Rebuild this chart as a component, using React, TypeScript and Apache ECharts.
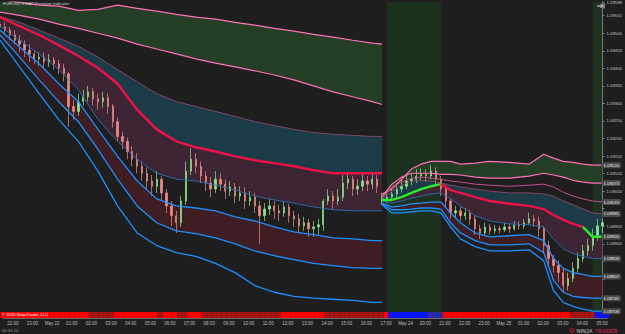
import React, { useEffect, useRef } from "react";
import * as echarts from "echarts";

const hourLabels = ["22:00","23:00","May 22","01:00","02:00","03:00","04:00","05:00","06:00","07:00","08:00","09:00","10:00","11:00","12:00","13:00","14:00","15:00","16:00","17:00","May 24","20:00","21:00","22:00","23:00","May 25","01:00","02:00","03:00","04:00","05:00"];

// [open, close, low, high] per 15-minute bar
const candles = [
[1.09526,1.09517,1.09503,1.09546],[1.09517,1.09509,1.09495,1.09531],[1.09509,1.09495,1.09480,1.09517],[1.09495,1.09480,1.09469,1.09509],
[1.09480,1.09469,1.09446,1.09495],[1.09469,1.09452,1.09432,1.09480],[1.09452,1.09441,1.09418,1.09469],[1.09441,1.09427,1.09413,1.09452],
[1.09427,1.09432,1.09407,1.09446],[1.09432,1.09418,1.09401,1.09446],[1.09418,1.09424,1.09404,1.09441],[1.09424,1.09413,1.09396,1.09432],
[1.09413,1.09401,1.09384,1.09424],[1.09401,1.09384,1.09362,1.09413],[1.09384,1.09291,1.09234,1.09390],[1.09291,1.09277,1.09254,1.09311],
[1.09277,1.09305,1.09265,1.09328],[1.09305,1.09319,1.09294,1.09339],[1.09319,1.09333,1.09305,1.09350],[1.09333,1.09313,1.09294,1.09345],
[1.09313,1.09305,1.09282,1.09328],[1.09305,1.09316,1.09288,1.09333],[1.09316,1.09291,1.09271,1.09328],[1.09291,1.09248,1.09231,1.09299],
[1.09248,1.09206,1.09192,1.09260],[1.09206,1.09192,1.09169,1.09220],[1.09192,1.09163,1.09141,1.09203],[1.09163,1.09141,1.09121,1.09178],
[1.09141,1.09121,1.09101,1.09158],[1.09121,1.09101,1.09079,1.09135],[1.09101,1.09079,1.09056,1.09118],[1.09079,1.09064,1.09036,1.09096],
[1.09064,1.09084,1.09045,1.09107],[1.09084,1.09045,1.09022,1.09093],[1.09045,1.09008,1.08988,1.09056],[1.09008,1.08980,1.08951,1.09022],
[1.08980,1.08960,1.08931,1.08994],[1.08960,1.09022,1.08948,1.09036],[1.09022,1.09107,1.09011,1.09135],[1.09107,1.09141,1.09096,1.09172],
[1.09141,1.09121,1.09101,1.09158],[1.09121,1.09093,1.09073,1.09135],[1.09093,1.09073,1.09050,1.09107],[1.09073,1.09056,1.09033,1.09090],
[1.09056,1.09084,1.09045,1.09107],[1.09084,1.09070,1.09050,1.09101],[1.09070,1.09050,1.09028,1.09084],[1.09050,1.09062,1.09036,1.09079],
[1.09062,1.09036,1.09016,1.09073],[1.09036,1.09045,1.09022,1.09064],[1.09045,1.09022,1.08999,1.09062],[1.09022,1.09033,1.09008,1.09050],
[1.09033,1.09008,1.08988,1.09045],[1.09008,1.08980,1.08900,1.09022],[1.08980,1.08999,1.08965,1.09016],[1.08999,1.09008,1.08982,1.09028],
[1.09008,1.08994,1.08971,1.09022],[1.08994,1.08988,1.08965,1.09011],[1.08988,1.09005,1.08977,1.09022],[1.09005,1.08980,1.08960,1.09014],
[1.08980,1.08971,1.08948,1.08994],[1.08971,1.08951,1.08931,1.08985],[1.08951,1.08960,1.08937,1.08977],[1.08960,1.08943,1.08920,1.08971],
[1.08943,1.08948,1.08920,1.08965],[1.08948,1.08954,1.08926,1.08971],[1.08954,1.09022,1.08937,1.09028],[1.09022,1.09036,1.09011,1.09056],
[1.09036,1.09022,1.08999,1.09050],[1.09022,1.09033,1.09011,1.09056],[1.09033,1.09073,1.09022,1.09096],[1.09073,1.09084,1.09056,1.09101],
[1.09084,1.09056,1.09036,1.09093],[1.09056,1.09064,1.09039,1.09084],[1.09064,1.09079,1.09050,1.09098],[1.09079,1.09070,1.09050,1.09093],
[1.09070,1.09084,1.09056,1.09101],[1.09084,1.09064,1.09045,1.09096],
[1.09022,1.09028,1.09011,1.09045],[1.09028,1.09033,1.09016,1.09050],[1.09033,1.09042,1.09022,1.09059],[1.09042,1.09056,1.09033,1.09073],
[1.09056,1.09064,1.09045,1.09084],[1.09064,1.09079,1.09056,1.09096],[1.09079,1.09084,1.09067,1.09101],[1.09084,1.09093,1.09073,1.09113],
[1.09093,1.09098,1.09079,1.09115],[1.09098,1.09093,1.09076,1.09113],[1.09093,1.09107,1.09084,1.09124],[1.09107,1.09084,1.09067,1.09118],
[1.09084,1.09056,1.09036,1.09093],[1.09056,1.09022,1.09002,1.09064],[1.09022,1.08988,1.08971,1.09030],[1.08988,1.08994,1.08974,1.09008],
[1.08994,1.08980,1.08965,1.09005],[1.08980,1.08988,1.08968,1.09002],[1.08988,1.08971,1.08954,1.08997],[1.08971,1.08943,1.08926,1.08980],
[1.08943,1.08931,1.08914,1.08954],[1.08931,1.08948,1.08923,1.08960],[1.08948,1.08937,1.08926,1.08957],[1.08937,1.08943,1.08929,1.08954],
[1.08943,1.08940,1.08929,1.08951],[1.08940,1.08948,1.08934,1.08960],[1.08948,1.08943,1.08931,1.08957],[1.08943,1.08954,1.08937,1.08965],
[1.08954,1.08951,1.08940,1.08965],[1.08951,1.08960,1.08943,1.08971],[1.08960,1.08971,1.08954,1.08988],[1.08971,1.08965,1.08948,1.08982],
[1.08965,1.08943,1.08920,1.08977],[1.08943,1.08895,1.08875,1.08951],[1.08895,1.08858,1.08835,1.08909],[1.08858,1.08838,1.08818,1.08869],
[1.08838,1.08818,1.08790,1.08852],[1.08818,1.08781,1.08762,1.08830],[1.08781,1.08801,1.08767,1.08818],[1.08801,1.08830,1.08790,1.08847],
[1.08830,1.08858,1.08818,1.08875],[1.08858,1.08880,1.08847,1.08897],[1.08880,1.08895,1.08866,1.08914],[1.08895,1.08923,1.08880,1.08943],
[1.08923,1.08951,1.08909,1.08971],[1.08951,1.08960,1.08931,1.08971]
];

// bottom state strip: 2 strong down, 1 weak down, -1 weak up, -2 strong up
const barState = [
2,2,2,2,2,2,2,2,2,2,2,2,2,2,2,2,2,2,1,1,1,1,1,2,2,2,2,2,2,2,2,2,1,2,2,2,1,1,2,2,2,
1,1,1,1,1,1,1,1,1,1,1,1,1,1,1,1,2,2,2,2,2,2,2,2,2,1,1,1,1,1,1,1,1,1,1,1,1,2,
-2,-2,-2,-2,-2,-2,-2,-2,-1,-1,-1,
2,2,2,2,2,2,2,2,2,2,2,2,2,2,2,2,2,2,2,2,2,2,2,2,2,2,1,1,1,1,1,-2,-2,-2
];

const shadeRanges = [[79, 90], [120.6, 123]];

// Session 1 band values
const s1Idx = [0,4,8,12,16,20,24,28,32,36,40,44,48,52,56,60,64,68,72,76,78];
const s1U4 = [1.09596,1.09588,1.09580,1.09577,1.09565,1.09568,1.09580,1.09571,1.09563,1.09554,1.09546,1.09540,1.09531,1.09523,1.09514,1.09506,1.09497,1.09489,1.09480,1.09472,1.09469];
const s1U3 = [1.09560,1.09551,1.09540,1.09526,1.09514,1.09500,1.09486,1.09469,1.09455,1.09441,1.09427,1.09415,1.09404,1.09393,1.09381,1.09367,1.09350,1.09333,1.09319,1.09305,1.09297];
const s1U1 = [1.09548,1.09531,1.09509,1.09486,1.09463,1.09432,1.09396,1.09362,1.09328,1.09305,1.09291,1.09277,1.09263,1.09248,1.09237,1.09226,1.09217,1.09212,1.09209,1.09206,1.09206];
const s1Vwap = [1.09546,1.09520,1.09495,1.09466,1.09435,1.09401,1.09356,1.09282,1.09226,1.09192,1.09175,1.09163,1.09149,1.09138,1.09130,1.09121,1.09110,1.09101,1.09101,1.09101,1.09101];
const s1Up = [false,false,false,false,false,false,false,false,false,false,false,false,false,false,false,false,false,false,false,false,false];
const s1L1 = [1.09520,1.09480,1.09441,1.09396,1.09339,1.09254,1.09192,1.09141,1.09101,1.09084,1.09079,1.09067,1.09053,1.09036,1.09025,1.09016,1.09005,1.08997,1.08994,1.08994,1.08994];
const s1L2 = [1.09509,1.09461,1.09413,1.09356,1.09305,1.09226,1.09149,1.09079,1.09028,1.09008,1.09002,1.08994,1.08977,1.08965,1.08948,1.08934,1.08926,1.08917,1.08914,1.08909,1.08909];
const s1L3 = [1.09495,1.09432,1.09367,1.09305,1.09248,1.09169,1.09084,1.09008,1.08960,1.08937,1.08929,1.08917,1.08900,1.08880,1.08866,1.08855,1.08844,1.08838,1.08832,1.08830,1.08830];
const s1L4 = [1.09480,1.09404,1.09328,1.09254,1.09192,1.09107,1.09008,1.08931,1.08895,1.08875,1.08864,1.08844,1.08818,1.08781,1.08762,1.08750,1.08745,1.08742,1.08739,1.08733,1.08733];

// Session 2 band values
const s2Idx = [78,80,82,84,86,88,90,92,94,97,100,104,108,111,113,115,117,119,121,123];
const s2U4 = [1.09042,1.09056,1.09084,1.09113,1.09127,1.09135,1.09135,1.09135,1.09127,1.09130,1.09135,1.09132,1.09127,1.09155,1.09144,1.09135,1.09132,1.09127,1.09124,1.09124];
const s2U3 = [1.09033,1.09070,1.09090,1.09101,1.09101,1.09101,1.09098,1.09098,1.09096,1.09090,1.09087,1.09087,1.09093,1.09101,1.09096,1.09090,1.09081,1.09076,1.09073,1.09073];
const s2U2 = [1.09028,1.09062,1.09076,1.09087,1.09090,1.09087,1.09084,1.09079,1.09076,1.09070,1.09067,1.09064,1.09067,1.09070,1.09062,1.09047,1.09036,1.09028,1.09022,1.09019];
const s2U1 = [1.09025,1.09050,1.09067,1.09079,1.09081,1.09079,1.09073,1.09067,1.09062,1.09056,1.09050,1.09045,1.09045,1.09042,1.09036,1.09022,1.09011,1.08999,1.08988,1.08985];
const s2Vwap = [1.09025,1.09025,1.09033,1.09045,1.09056,1.09064,1.09070,1.09053,1.09045,1.09033,1.09022,1.09014,1.09008,1.08999,1.08982,1.08968,1.08957,1.08948,1.08920,1.08920];
const s2Up = [false,true,true,true,true,true,true,false,false,false,false,false,false,false,false,false,false,false,true,true];
const s2L1 = [1.09022,1.09016,1.09022,1.09030,1.09036,1.09042,1.09045,1.09028,1.09008,1.08980,1.08965,1.08957,1.08954,1.08948,1.08914,1.08886,1.08872,1.08864,1.08858,1.08858];
const s2L2 = [1.09016,1.09005,1.09008,1.09014,1.09016,1.09019,1.09019,1.08988,1.08960,1.08931,1.08920,1.08923,1.08926,1.08909,1.08858,1.08830,1.08818,1.08813,1.08807,1.08807];
const s2L3 = [1.09014,1.08997,1.08997,1.08999,1.09002,1.09002,1.08999,1.08960,1.08931,1.08909,1.08897,1.08897,1.08900,1.08875,1.08796,1.08762,1.08750,1.08747,1.08745,1.08745];
const s2L4 = [1.09011,1.08988,1.08988,1.08991,1.08994,1.08994,1.08988,1.08948,1.08914,1.08892,1.08880,1.08880,1.08883,1.08852,1.08767,1.08733,1.08722,1.08714,1.08708,1.08708];

const FONT = '"Liberation Sans", Arial, sans-serif';
const PINK = "#ff6fb8";
const PINK_DIM = "#c04f8a";
const MAUVE = "#8d4a6c";
const RED = "#ec1246";
const GREEN = "#2bea2b";
const BLUE = "#1e8fff";
const BLUE_DIM = "#2d6fb4";

export default function App() {
  const ref = useRef<HTMLDivElement>(null);
  useEffect(() => {
    document.body.style.margin = "0";
    document.body.style.background = "#1e1e1e";
    const chart = echarts.init(ref.current as HTMLDivElement, null, { renderer: "svg" });

    const cats = candles.map((_, i) => String(i));
    const labelAt: string[] = cats.map(() => "");
    hourLabels.forEach((l, k) => { if (2 + 4 * k < labelAt.length) labelAt[2 + 4 * k] = l; });

    const last = (a: number[]) => a[a.length - 1];
    const tagValues = [s2U4, s2U3, s2U2, s2U1, s2Vwap, s2L1, s2L2, s2L3, s2L4].map(last);

    const tagLabel = {
      show: true,
      formatter: (p: any) => Number(p.value[1]).toFixed(5),
      distance: -1,
      fontSize: 4.3,
      fontFamily: FONT,
      color: "#e8e8e8",
      backgroundColor: "#4a4a4a",
      padding: [1, 2, 1, 2],
      borderRadius: 1.5,
    };

    const line = (idx: number[], vals: number[], color: string, width: number, tag: boolean, z = 4) => ({
      type: "line",
      xAxisIndex: 0,
      yAxisIndex: 0,
      data: idx.map((x, i) => [x, vals[i]]),
      symbol: "none",
      showSymbol: false,
      silent: true,
      z,
      lineStyle: { color, width },
      endLabel: tag ? tagLabel : { show: false },
    });

    const fill = (idx: number[], lo: number[], hi: number[], color: string) => {
      const data = idx.map((x, i) => [x, lo[i], hi[i]]);
      return {
        type: "custom",
        xAxisIndex: 0,
        yAxisIndex: 0,
        clip: true,
        silent: true,
        z: 1,
        data,
        encode: { x: 0, y: [1, 2] },
        renderItem: (params: any, api: any) => {
          if (params.dataIndex !== 0) return null;
          const pts: number[][] = [];
          for (const d of data) pts.push(api.coord([d[0], d[2]]));
          for (let i = data.length - 1; i >= 0; i--) pts.push(api.coord([data[i][0], data[i][1]]));
          return { type: "polygon", shape: { points: pts }, style: { fill: color } };
        },
      };
    };

    const vwapSeries = (idx: number[], vals: number[], up: boolean[], tag: boolean) => {
      const out: any[] = [];
      let start = 0;
      for (let i = 1; i < idx.length; i++) {
        const c = up[i];
        if (i === idx.length - 1 || up[i + 1] !== c) {
          out.push(line(idx.slice(start, i + 1), vals.slice(start, i + 1), c ? GREEN : RED, 2.4, tag && i === idx.length - 1, 5));
          start = i;
        }
      }
      return out;
    };

    const sessions = [
      { idx: s1Idx, u4: s1U4, u3: s1U3, u2: null as number[] | null, u1: s1U1, vwap: s1Vwap, up: s1Up, l1: s1L1, l2: s1L2, l3: s1L3, l4: s1L4, tag: false },
      { idx: s2Idx, u4: s2U4, u3: s2U3, u2: s2U2 as number[] | null, u1: s2U1, vwap: s2Vwap, up: s2Up, l1: s2L1, l2: s2L2, l3: s2L3, l4: s2L4, tag: true },
    ];

    const series: any[] = [
      {
        type: "custom",
        xAxisIndex: 0,
        yAxisIndex: 0,
        silent: true,
        z: 0,
        data: shadeRanges,
        renderItem: (params: any, api: any) => {
          const r = shadeRanges[params.dataIndex];
          const a = api.coord([r[0], 1.09]);
          const b = api.coord([r[1], 1.09]);
          const cs = params.coordSys;
          return { type: "rect", shape: { x: a[0], y: cs.y, width: b[0] - a[0], height: cs.height }, style: { fill: "#1d321e" } };
        },
      },
    ];

    for (const s of sessions) {
      series.push(fill(s.idx, s.u3, s.u4, "#243e26"));
      series.push(fill(s.idx, s.vwap, s.u1, "#1b3b46"));
      series.push(fill(s.idx, s.l1, s.vwap, "#3d2433"));
      series.push(fill(s.idx, s.l3, s.l2, "#3e1d23"));
    }

    series.push({
      type: "candlestick",
      xAxisIndex: 0,
      yAxisIndex: 0,
      data: candles,
      barMaxWidth: 1.8,
      silent: true,
      z: 3,
      itemStyle: { color: "#8ee68e", color0: "#f08a8a", borderColor: "#8ee68e", borderColor0: "#f08a8a", borderWidth: 0.7 },
    });

    for (const s of sessions) {
      series.push(line(s.idx, s.u4, PINK, 1.2, s.tag));
      series.push(line(s.idx, s.u3, PINK, 1.2, s.tag));
      if (s.u2) series.push(line(s.idx, s.u2, PINK_DIM, 1, s.tag));
      series.push(line(s.idx, s.u1, MAUVE, 0.9, s.tag));
      series.push(...vwapSeries(s.idx, s.vwap, s.up, s.tag));
      series.push(line(s.idx, s.l1, BLUE_DIM, 0.9, s.tag));
      series.push(line(s.idx, s.l2, BLUE, 1.3, s.tag));
      series.push(line(s.idx, s.l3, BLUE, 1.3, s.tag));
      series.push(line(s.idx, s.l4, BLUE, 1.3, s.tag));
    }

    const stateColor: Record<string, string> = { "2": "#ff0000", "1": "#a81212", "-1": "#2a2aa8", "-2": "#0a14ff" };
    series.push({
      type: "bar",
      xAxisIndex: 1,
      yAxisIndex: 1,
      silent: true,
      barCategoryGap: "0%",
      data: barState.map((v) => ({ value: 1, itemStyle: { color: stateColor[String(v)] } })),
    });

    chart.setOption({
      animation: false,
      backgroundColor: "#1e1e1e",
      textStyle: { fontFamily: FONT },
      grid: [
        { left: 0, right: 18, top: 0, bottom: 20 },
        { left: 0, right: 18, top: 312, height: 6 },
      ],
      xAxis: [
        { type: "category", gridIndex: 0, data: cats, boundaryGap: false, axisLine: { show: false }, axisTick: { show: false }, axisLabel: { show: false }, splitLine: { show: false } },
        {
          type: "category", gridIndex: 1, data: cats, boundaryGap: false,
          axisLine: { show: true, lineStyle: { color: "#6a6a6a", width: 1 } },
          axisTick: { show: false },
          axisLabel: { interval: 0, formatter: (_v: string, i: number) => labelAt[i], fontSize: 4.5, color: "#bdbdbd", margin: 3, fontFamily: FONT },
        },
      ],
      yAxis: [
        {
          type: "value", gridIndex: 0, position: "right", min: 1.087, max: 1.09589, interval: 0.0005,
          axisLine: { show: true, lineStyle: { color: "#777", width: 1 } },
          axisTick: { show: true, length: 2, lineStyle: { color: "#888" } },
          axisLabel: {
            formatter: (v: number) => (tagValues.some((t) => Math.abs(t - v) < 0.00016) ? "" : v.toFixed(5)),
            fontSize: 4.3, color: "#c4c4c4", margin: 4, showMinLabel: false, fontFamily: FONT,
          },
          splitLine: { show: false },
        },
        { type: "value", gridIndex: 1, min: 0, max: 1, show: false },
      ],
      series,
      graphic: [
        { type: "text", left: 3, top: 1, z: 100, style: { text: "EURUSD VWAP Premium Indicator", fill: "#d0d0d0", font: `4.2px ${FONT}` } },
        { type: "text", left: 2, top: 312.8, z: 100, style: { text: "© 2020 NinjaTrader, LLC", fill: "#ffffff", font: `4.2px ${FONT}` } },
        { type: "text", left: 2, top: 328.5, z: 100, style: { text: "05.06.20", fill: "#9a9a9a", font: `4.2px ${FONT}` } },
        { type: "circle", z: 100, shape: { cx: 572, cy: 330.5, r: 2.6 }, style: { fill: "#a0102c" } },
        { type: "circle", z: 100, shape: { cx: 572, cy: 330.5, r: 1.1 }, style: { fill: "#1e1e1e" } },
        { type: "text", left: 576.5, top: 328, z: 100, style: { text: "NINJA", fill: "#9a9a9a", font: `bold 5.4px ${FONT}` } },
        { type: "text", left: 595, top: 328, z: 100, style: { text: "TRADER", fill: "#b4283e", font: `bold 5.4px ${FONT}` } },
        { type: "line", z: 100, shape: { x1: 597, y1: 6, x2: 602.5, y2: 6 }, style: { stroke: "#dddddd", lineWidth: 1 } },
        { type: "polyline", z: 100, shape: { points: [[600.5, 4], [602.5, 6], [600.5, 8]] }, style: { stroke: "#dddddd", lineWidth: 1, fill: "none" } },
        { type: "line", z: 100, shape: { x1: 604, y1: 3.5, x2: 604, y2: 8.5 }, style: { stroke: "#dddddd", lineWidth: 1 } },
      ],
    });
    return () => chart.dispose();
  }, []);
  return <div ref={ref} style={{ position: "fixed", left: 0, top: 0, width: 625, height: 334, background: "#1e1e1e" }} />;
}
